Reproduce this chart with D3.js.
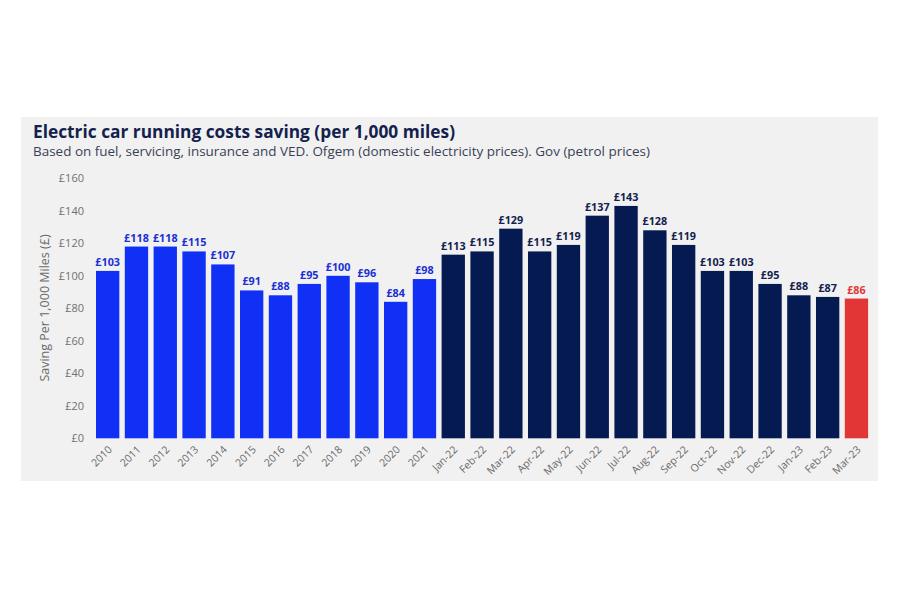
<!DOCTYPE html>
<html><head><meta charset="utf-8">
<script src="https://cdn.jsdelivr.net/npm/d3@7"></script>
<style>
body{margin:0;background:#fff;}
svg{display:block;font-family:"Open Sans","Lato",sans-serif;}
</style></head>
<body>
<svg id="c" width="900" height="600"></svg>
<script>
const categories = ["2010","2011","2012","2013","2014","2015","2016","2017","2018","2019","2020","2021",
  "Jan-22","Feb-22","Mar-22","Apr-22","May-22","Jun-22","Jul-22","Aug-22","Sep-22","Oct-22","Nov-22","Dec-22",
  "Jan-23","Feb-23","Mar-23"];
const values = [103,118,118,115,107,91,88,95,100,96,84,98,
  113,115,129,115,119,137,143,128,119,103,103,95,88,87,86];
const groups = ["year","year","year","year","year","year","year","year","year","year","year","year",
  "month","month","month","month","month","month","month","month","month","month","month","month","month","month","latest"];
const yTicks = [0,20,40,60,80,100,120,140,160];
const title = "Electric car running costs saving (per 1,000 miles)";
const subtitle = "Based on fuel, servicing, insurance and VED. Ofgem (domestic electricity prices). Gov (petrol prices)";
const yLabel = "Saving Per 1,000 Miles (£)";

const colors = {year:"#1130f5", month:"#061a52", latest:"#e23636"};

const svg = d3.select("#c");
svg.append("rect").attr("x",21).attr("y",117).attr("width",857).attr("height",364).attr("fill","#f1f1f1");

svg.append("text").attr("x",33).attr("y",137.5).attr("font-size",17).attr("font-weight",700)
  .attr("fill","#14214d").attr("textLength",422).attr("lengthAdjust","spacingAndGlyphs").text(title);
svg.append("text").attr("x",33).attr("y",156).attr("font-size",13.5).attr("fill","#3a3f55")
  .attr("textLength",617).attr("lengthAdjust","spacingAndGlyphs").text(subtitle);

const x = d3.scaleBand().domain(categories).range([93.12,871.0]).paddingInner(0.19).paddingOuter(0.1);
const y = d3.scaleLinear().domain([0,160]).range([438.3,178.3]);

const yAxis = svg.append("g").attr("transform","translate(84,0)")
  .call(d3.axisLeft(y).tickValues(yTicks).tickSize(0).tickPadding(0).tickFormat(d=>"£"+d));
yAxis.select(".domain").remove();
yAxis.selectAll("text").attr("font-size",11).attr("fill","#707070").attr("font-family","Open Sans, sans-serif");

svg.append("text").attr("transform","translate(49,308) rotate(-90)").attr("text-anchor","middle")
  .attr("font-size",12.5).attr("fill","#6a6a6a").text(yLabel);

const data = categories.map((c,i)=>({c, v:values[i], g:groups[i]}));

svg.append("g").selectAll("rect").data(data).join("rect")
  .attr("x",d=>x(d.c)).attr("y",d=>y(d.v)).attr("width",x.bandwidth())
  .attr("height",d=>y(0)-y(d.v)).attr("fill",d=>colors[d.g]);

svg.append("g").selectAll("text").data(data).join("text")
  .attr("x",d=>x(d.c)+x.bandwidth()/2).attr("y",d=>y(d.v)-5)
  .attr("text-anchor","middle").attr("font-size",10.8).attr("font-weight",700)
  .attr("fill",d=>d.g==="year"?"#1a2fd6":(d.g==="month"?"#14214d":"#e23636"))
  .text(d=>"£"+d.v);

const xAxis = svg.append("g").attr("transform",`translate(0,${y(0)})`)
  .call(d3.axisBottom(x).tickSize(0).tickPadding(0));
xAxis.select(".domain").remove();
xAxis.selectAll("text")
  .attr("font-size",10.5).attr("fill","#6a6a6a").attr("font-family","Open Sans, sans-serif")
  .attr("text-anchor","end").attr("dy",0)
  .attr("transform","translate(5,12) rotate(-45)");
</script>
</body></html>
